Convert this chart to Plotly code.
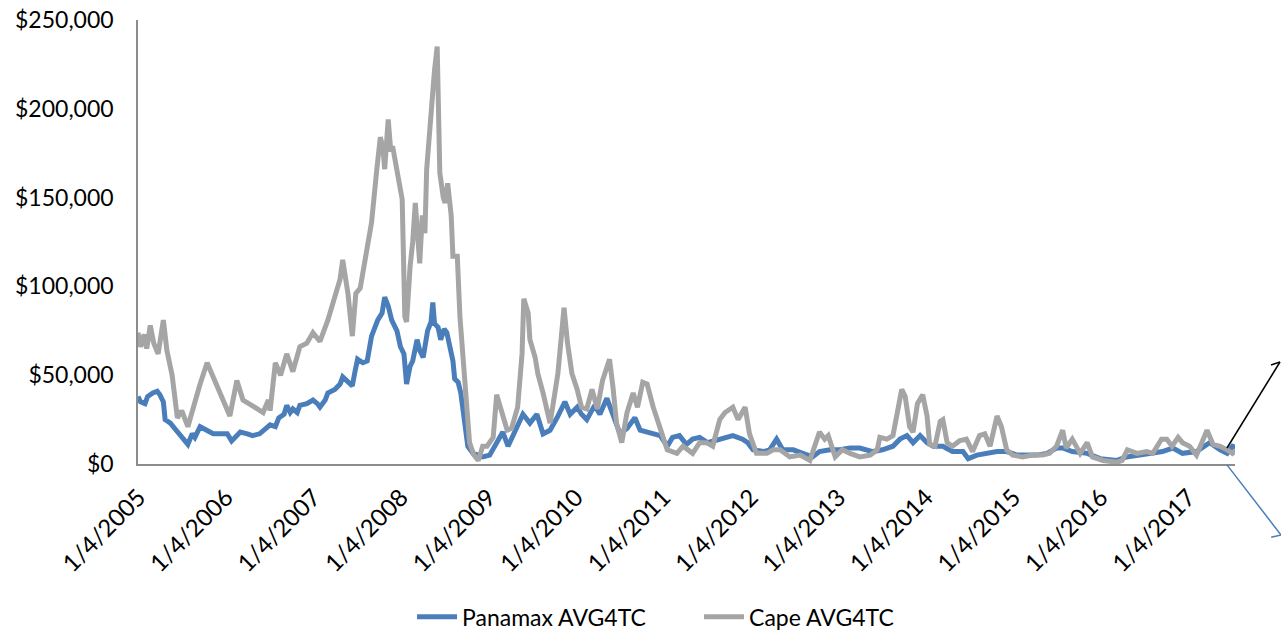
import plotly.graph_objects as go

# Decimal-year positions and values (thousand US$/day)
cape_t = [2005.00, 2005.03, 2005.07, 2005.10, 2005.14, 2005.18, 2005.23, 2005.29, 2005.33, 2005.39,
          2005.45, 2005.50, 2005.57, 2005.63, 2005.71, 2005.79, 2005.86, 2005.94, 2006.05, 2006.13,
          2006.20, 2006.30, 2006.43, 2006.49, 2006.51, 2006.57, 2006.63, 2006.70, 2006.77, 2006.85,
          2006.93, 2007.00, 2007.08, 2007.17, 2007.23, 2007.31, 2007.34, 2007.40, 2007.45, 2007.49,
          2007.54, 2007.59, 2007.67, 2007.73, 2007.77, 2007.80, 2007.82, 2007.86, 2007.89, 2007.91,
          2007.96, 2008.02, 2008.05, 2008.07, 2008.11, 2008.14, 2008.17, 2008.20, 2008.22, 2008.25,
          2008.28, 2008.30, 2008.33, 2008.37, 2008.39, 2008.42, 2008.43, 2008.45, 2008.49, 2008.51,
          2008.54, 2008.58, 2008.60, 2008.65, 2008.68, 2008.71, 2008.76, 2008.79, 2008.84, 2008.89,
          2008.94, 2008.99, 2009.06, 2009.10, 2009.16, 2009.22, 2009.27, 2009.34, 2009.39, 2009.41,
          2009.46, 2009.48, 2009.54, 2009.57, 2009.63, 2009.71, 2009.74, 2009.80, 2009.87, 2009.91,
          2009.96, 2010.02, 2010.07, 2010.13, 2010.19, 2010.25, 2010.31, 2010.39, 2010.43, 2010.47,
          2010.53, 2010.59, 2010.66, 2010.71, 2010.77, 2010.82, 2010.89, 2010.97, 2011.05, 2011.16,
          2011.23, 2011.34, 2011.42, 2011.50, 2011.57, 2011.65, 2011.71, 2011.80, 2011.86, 2011.94,
          2011.99, 2012.07, 2012.19, 2012.26, 2012.34, 2012.45, 2012.57, 2012.68, 2012.74, 2012.79,
          2012.85, 2012.89, 2012.97, 2013.05, 2013.14, 2013.25, 2013.37, 2013.45, 2013.48, 2013.56,
          2013.63, 2013.69, 2013.73, 2013.77, 2013.82, 2013.86, 2013.91, 2013.97, 2014.02, 2014.05,
          2014.11, 2014.17, 2014.20, 2014.25, 2014.31, 2014.39, 2014.47, 2014.54, 2014.62, 2014.68,
          2014.74, 2014.82, 2014.87, 2014.93, 2015.00, 2015.11, 2015.23, 2015.34, 2015.42, 2015.50,
          2015.57, 2015.61, 2015.68, 2015.77, 2015.85, 2015.91, 2016.03, 2016.19, 2016.25, 2016.31,
          2016.42, 2016.53, 2016.60, 2016.70, 2016.76, 2016.82, 2016.89, 2016.94, 2017.02, 2017.10,
          2017.22, 2017.29, 2017.37, 2017.45, 2017.51, 2017.56]
cape_v = [74, 66, 73, 65, 78, 68, 62, 81, 64, 50,
          26, 30, 21, 32, 45, 57, 49, 40, 27, 47,
          36, 33, 29, 36, 30, 57, 50, 62, 52, 66,
          68, 74, 69, 81, 90, 104, 115, 96, 72, 96,
          99, 113, 136, 166, 184, 178, 166, 194, 176, 179,
          164, 149, 83, 80, 111, 125, 147, 120, 113, 140,
          130, 166, 186, 216, 222, 235, 210, 164, 150, 147,
          158, 140, 117, 117, 83, 62, 32, 12, 5, 2,
          10, 10, 15, 39, 29, 19, 20, 32, 62, 93,
          85, 70, 60, 51, 40, 23, 32, 51, 88, 68,
          51, 42, 32, 31, 42, 31, 47, 59, 43, 23,
          12, 29, 40, 32, 46, 45, 32, 21, 8, 6,
          10, 6, 12, 12, 10, 25, 29, 32, 25, 32,
          17, 6, 6, 8, 8, 4, 5, 2, 10, 18,
          14, 16, 4, 8, 6, 4, 5, 8, 15, 14,
          16, 32, 42, 38, 21, 18, 34, 39, 27, 11,
          10, 24, 25, 12, 10, 13, 14, 7, 16, 17,
          10, 27, 21, 8, 5, 4, 5, 5, 6, 10,
          19, 9, 14, 6, 12, 4, 2, 1, 2, 8,
          6, 7, 6, 14, 14, 10, 15, 12, 10, 5,
          19, 11, 10, 8, 6, 8]

panamax_t = [2005.00, 2005.03, 2005.08, 2005.11, 2005.17, 2005.22, 2005.25, 2005.29, 2005.31, 2005.37,
             2005.42, 2005.50, 2005.57, 2005.62, 2005.65, 2005.71, 2005.79, 2005.86, 2005.94, 2006.02,
             2006.07, 2006.17, 2006.25, 2006.31, 2006.39, 2006.45, 2006.51, 2006.57, 2006.61, 2006.67,
             2006.70, 2006.74, 2006.77, 2006.82, 2006.85, 2006.93, 2007.00, 2007.05, 2007.08, 2007.14,
             2007.17, 2007.25, 2007.31, 2007.34, 2007.40, 2007.45, 2007.48, 2007.51, 2007.57, 2007.62,
             2007.67, 2007.74, 2007.79, 2007.82, 2007.86, 2007.90, 2007.96, 2008.00, 2008.04, 2008.06,
             2008.07, 2008.11, 2008.14, 2008.19, 2008.22, 2008.26, 2008.29, 2008.31, 2008.35, 2008.37,
             2008.39, 2008.43, 2008.46, 2008.50, 2008.53, 2008.57, 2008.60, 2008.62, 2008.66, 2008.69,
             2008.71, 2008.74, 2008.77, 2008.83, 2008.87, 2008.94, 2009.02, 2009.10, 2009.17, 2009.23,
             2009.29, 2009.34, 2009.40, 2009.48, 2009.56, 2009.63, 2009.71, 2009.79, 2009.88, 2009.94,
             2010.02, 2010.07, 2010.13, 2010.22, 2010.28, 2010.36, 2010.43, 2010.51, 2010.59, 2010.68,
             2010.74, 2010.82, 2010.89, 2010.97, 2011.05, 2011.11, 2011.19, 2011.27, 2011.34, 2011.42,
             2011.51, 2011.65, 2011.80, 2011.91, 2011.97, 2012.03, 2012.15, 2012.22, 2012.30, 2012.37,
             2012.49, 2012.60, 2012.71, 2012.79, 2012.91, 2013.02, 2013.14, 2013.25, 2013.40, 2013.51,
             2013.63, 2013.71, 2013.79, 2013.86, 2013.94, 2014.02, 2014.09, 2014.20, 2014.31, 2014.43,
             2014.49, 2014.59, 2014.70, 2014.82, 2014.93, 2015.05, 2015.16, 2015.27, 2015.39, 2015.50,
             2015.57, 2015.68, 2015.85, 2016.00, 2016.19, 2016.30, 2016.45, 2016.57, 2016.71, 2016.83,
             2016.94, 2017.10, 2017.25, 2017.37, 2017.45, 2017.51, 2017.56]
panamax_v = [38, 35, 34, 38, 40, 41, 39, 35, 25, 23,
             20, 15, 11, 17, 15, 21, 19, 17, 17, 17,
             13, 18, 17, 16, 17, 20, 22, 21, 26, 28,
             33, 29, 31, 29, 33, 34, 36, 34, 32, 36,
             40, 42, 45, 49, 46, 44, 52, 59, 57, 58,
             72, 81, 85, 94, 89, 81, 75, 66, 62, 52,
             45, 55, 58, 70, 64, 60, 68, 75, 80, 91,
             79, 77, 70, 76, 74, 63, 58, 48, 46, 40,
             32, 17, 10, 6, 5, 4, 5, 12, 18, 10,
             16, 22, 28, 23, 28, 17, 19, 26, 35, 28,
             32, 28, 25, 33, 28, 37, 28, 17, 20, 26,
             19, 18, 17, 16, 10, 15, 16, 11, 14, 15,
             12, 14, 16, 14, 12, 8, 7, 8, 14, 8,
             8, 6, 4, 7, 8, 8, 9, 9, 7, 8,
             10, 14, 16, 12, 16, 12, 10, 10, 7, 7,
             3, 5, 6, 7, 7, 5, 5, 5, 6, 9,
             9, 7, 6, 3, 2, 4, 5, 6, 7, 9,
             6, 7, 12, 8, 6, 10, 9]

tick_years = [2005, 2006, 2007, 2008, 2009, 2010, 2011, 2012, 2013, 2014, 2015, 2016, 2017]
tick_labels = ["1/4/" + str(y) for y in tick_years]
y_ticks = [0, 50000, 100000, 150000, 200000, 250000]
y_labels = ["$" + format(v, ",") for v in y_ticks]

FONT = "Lato"
BLUE = "#4A7EBB"
GRAY = "#A5A5A5"

fig = go.Figure()
fig.add_trace(go.Scatter(x=panamax_t, y=[v * 1000 for v in panamax_v], mode="lines",
                         name="Panamax AVG4TC", line=dict(color=BLUE, width=5)))
fig.add_trace(go.Scatter(x=cape_t, y=[v * 1000 for v in cape_v], mode="lines",
                         name="Cape AVG4TC", line=dict(color=GRAY, width=5)))

# leader lines of callouts that sit outside the picture (right edge)
fig.add_shape(type="line", xref="paper", yref="paper", x0=0.9927, y0=0.036, x1=1.041, y1=0.2297,
              line=dict(color="black", width=1.5))
fig.add_shape(type="line", xref="paper", yref="paper", x0=1.0328, y0=0.223, x1=1.041, y1=0.2297,
              line=dict(color="black", width=1.5))
fig.add_shape(type="line", xref="paper", yref="paper", x0=0.9927, y0=-0.002, x1=1.042, y1=-0.16,
              line=dict(color=BLUE, width=1.5))
fig.add_shape(type="line", xref="paper", yref="paper", x0=1.033, y0=-0.165, x1=1.042, y1=-0.16,
              line=dict(color=BLUE, width=1.5))

fig.update_layout(
    width=1281, height=632,
    margin=dict(l=138, r=46, t=20, b=168, autoexpand=False),
    paper_bgcolor="white", plot_bgcolor="white",
    font=dict(family=FONT, size=23, color="black"),
    showlegend=True,
    legend=dict(orientation="h", xref="container", yref="container",
                x=0.5457, y=0.024, xanchor="center", yanchor="middle",
                font=dict(family=FONT, size=23, color="black"),
                itemwidth=40, entrywidth=232),
    xaxis=dict(range=[2005.0, 2017.54], tickvals=[y + 0.008 for y in tick_years],
               ticktext=tick_labels, tickangle=-45, showgrid=False, zeroline=False,
               showline=True, linecolor="#8C8C8C", linewidth=1.5, ticks="",
               ticklabelstandoff=8, automargin=False, tickfont=dict(size=24)),
    yaxis=dict(range=[0, 250000], tickvals=y_ticks, ticktext=y_labels,
               showgrid=False, zeroline=False, showline=True, linecolor="#8C8C8C",
               linewidth=1.5, ticks="", ticklabelstandoff=18, automargin=False),
)

fig.write_html("out.html")
